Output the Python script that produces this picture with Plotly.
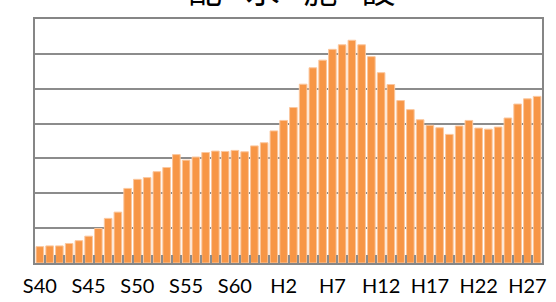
import plotly.graph_objects as go

# Fiscal years S40 (1965) .. H28 (2016)
years = [f"S{n}" for n in range(40, 64)] + [f"H{n}" for n in range(1, 29)]
values = [0.47, 0.49, 0.49, 0.56, 0.64, 0.77, 0.99, 1.28, 1.46, 2.14,
          2.40, 2.45, 2.62, 2.74, 3.11, 2.95, 3.04, 3.17, 3.21, 3.20,
          3.23, 3.19, 3.36, 3.45, 3.79, 4.09, 4.46, 5.13, 5.60, 5.82,
          6.13, 6.26, 6.39, 6.26, 5.92, 5.46, 5.12, 4.66, 4.40, 4.11,
          3.95, 3.88, 3.69, 3.93, 4.09, 3.87, 3.84, 3.90, 4.16, 4.56,
          4.71, 4.78]
tick_labels = [y if i % 5 == 0 else "" for i, y in enumerate(years)]
y_ticks = [0, 1, 2, 3, 4, 5, 6, 7]
title_text = "配\u2002\u2009水\u2002\u2009施\u2002\u2009設"

fig = go.Figure(go.Bar(
    x=years, y=values,
    marker=dict(color="#F79646", line=dict(color="#FBC79E", width=1)),
))

fig.update_layout(
    width=556, height=302,
    margin=dict(l=35, r=14, t=19, b=39, autoexpand=False),
    paper_bgcolor="white", plot_bgcolor="white",
    bargap=0.22, showlegend=False,
    font=dict(family="Lato, Carlito, sans-serif", color="#000"),
    annotations=[dict(
        text=title_text, xref="paper", yref="paper", x=0.505, y=1.0,
        yanchor="bottom", xanchor="center", yshift=4, showarrow=False,
        font=dict(family="Noto Sans CJK JP", size=34, color="#000"),
    )],
)
fig.update_xaxes(
    type="category", tickmode="array", tickvals=years, ticktext=tick_labels,
    tickson="boundaries", ticks="inside", ticklen=8, tickwidth=2,
    tickcolor="#8C8C8C", showline=True, linecolor="#868686", linewidth=2,
    mirror=True, showgrid=False, tickangle=0, automargin=False,
    ticklabelstandoff=4,
    tickfont=dict(size=20, family="Lato, Carlito, sans-serif"),
)
fig.update_yaxes(
    range=[0, 7], tickvals=y_ticks, showgrid=True, gridcolor="#8C8C8C",
    gridwidth=1.5, showline=True, linecolor="#868686", linewidth=2,
    mirror=True, zeroline=False, ticks="", automargin=False,
    ticklabelstandoff=33,
    tickfont=dict(size=18, family="Lato, Carlito, sans-serif"),
)

fig.write_html("out.html", config={"displayModeBar": False},
               post_script="document.body.style.margin='0';"
                           "document.body.style.overflow='hidden';")
